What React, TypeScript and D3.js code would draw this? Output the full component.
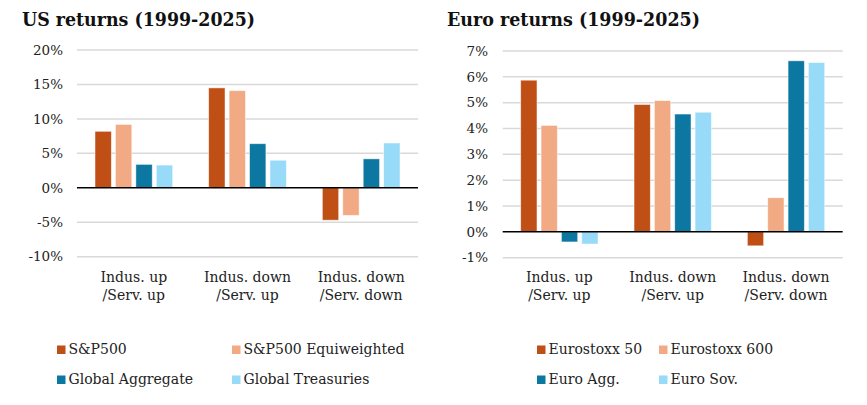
import * as d3 from 'd3'

const categories = [['Indus. up', '/Serv. up'], ['Indus. down', '/Serv. up'], ['Indus. down', '/Serv. down']]

const usSeries = ['S&P500', 'S&P500 Equiweighted', 'Global Aggregate', 'Global Treasuries']
const usValues = [
  [8.2, 14.5, -4.7],
  [9.2, 14.1, -4.0],
  [3.4, 6.4, 4.2],
  [3.3, 4.0, 6.5],
]
const usTicks = [-10, -5, 0, 5, 10, 15, 20]

const euSeries = ['Eurostoxx 50', 'Eurostoxx 600', 'Euro Agg.', 'Euro Sov.']
const euValues = [
  [5.87, 4.93, -0.54],
  [4.12, 5.08, 1.32],
  [-0.39, 4.56, 6.62],
  [-0.47, 4.63, 6.55],
]
const euTicks = [-1, 0, 1, 2, 3, 4, 5, 6, 7]

const colors = ['#C04F15', '#F2AA84', '#0C77A0', '#97DBF8']
const FONT = '"DejaVu Serif", "Liberation Serif", serif'

type PanelProps = {
  title: string
  titleLen: number
  series: string[]
  values: number[][]
  ticks: number[]
  tickFmt: (v: number) => string
  x0: number
  x1: number
  yTop: number
  yBottom: number
  tickRight: number
  titleX: number
  legendCols: number[]
}

function Panel(p: PanelProps) {
  const y = d3.scaleLinear().domain([p.ticks[0], p.ticks[p.ticks.length - 1]]).range([p.yBottom, p.yTop])
  const xg = d3.scaleBand<number>().domain(d3.range(categories.length)).range([p.x0, p.x1])
  const xb = d3.scaleBand<number>().domain(d3.range(p.series.length)).range([18, xg.bandwidth() - 18]).paddingInner(0.2)
  const zero = y(0)
  return (
    <g fontFamily={FONT}>
      <text x={p.titleX} y={26} fontSize={19} fontWeight="bold" fill="#111" textLength={p.titleLen} lengthAdjust="spacingAndGlyphs">
        {p.title}
      </text>
      {p.ticks.map((t) => (
        <g key={t}>
          {t !== 0 && <line x1={p.x0} x2={p.x1} y1={y(t)} y2={y(t)} stroke="#d9d9d9" strokeWidth={1.5} />}
          <text x={p.tickRight} y={y(t)} dy="0.35em" textAnchor="end" fontSize={13.5} fill="#222">
            {p.tickFmt(t)}
          </text>
        </g>
      ))}
      {p.values.map((row, si) =>
        row.map((v, ci) => {
          const bx = (xg(ci) ?? 0) + (xb(si) ?? 0)
          return (
            <rect
              key={`${si}-${ci}`}
              x={bx}
              y={Math.min(y(v), zero)}
              width={xb.bandwidth()}
              height={Math.abs(y(v) - zero)}
              fill={colors[si]}
              stroke="#fff"
              strokeOpacity={0.6}
              strokeWidth={0.8}
            />
          )
        })
      )}
      <line x1={p.x0} x2={p.x1} y1={zero} y2={zero} stroke="#000" strokeWidth={1.5} />
      {categories.map((c, ci) => (
        <text key={ci} x={(xg(ci) ?? 0) + xg.bandwidth() / 2} textAnchor="middle" fontSize={14} fill="#222">
          <tspan x={(xg(ci) ?? 0) + xg.bandwidth() / 2} y={282}>{c[0]}</tspan>
          <tspan x={(xg(ci) ?? 0) + xg.bandwidth() / 2} y={300}>{c[1]}</tspan>
        </text>
      ))}
      {p.series.map((s, si) => {
        const lx = p.legendCols[si % 2]
        const ly = si < 2 ? 354 : 384
        return (
          <g key={s}>
            <rect x={lx} y={ly - 8.5} width={8.5} height={8.5} fill={colors[si]} />
            <text x={lx + 11.5} y={ly} fontSize={14} fill="#222">
              {s}
            </text>
          </g>
        )
      })}
    </g>
  )
}

export default function App() {
  return (
    <svg width={867} height={405} style={{ position: 'absolute', left: 0, top: 0, background: '#fff' }}>
      <rect width={867} height={405} fill="#fff" />
      <Panel
        title="US returns (1999-2025)"
        titleLen={233}
        series={usSeries}
        values={usValues}
        ticks={usTicks}
        tickFmt={(v) => `${v}%`}
        x0={77}
        x1={418}
        yTop={50}
        yBottom={256.7}
        tickRight={63}
        titleX={22}
        legendCols={[57, 232]}
      />
      <Panel
        title="Euro returns (1999-2025)"
        titleLen={253}
        series={euSeries}
        values={euValues}
        ticks={euTicks}
        tickFmt={(v) => `${v}%`}
        x0={502.7}
        x1={842.7}
        yTop={51}
        yBottom={257.7}
        tickRight={488}
        titleX={447}
        legendCols={[537, 659]}
      />
    </svg>
  )
}
